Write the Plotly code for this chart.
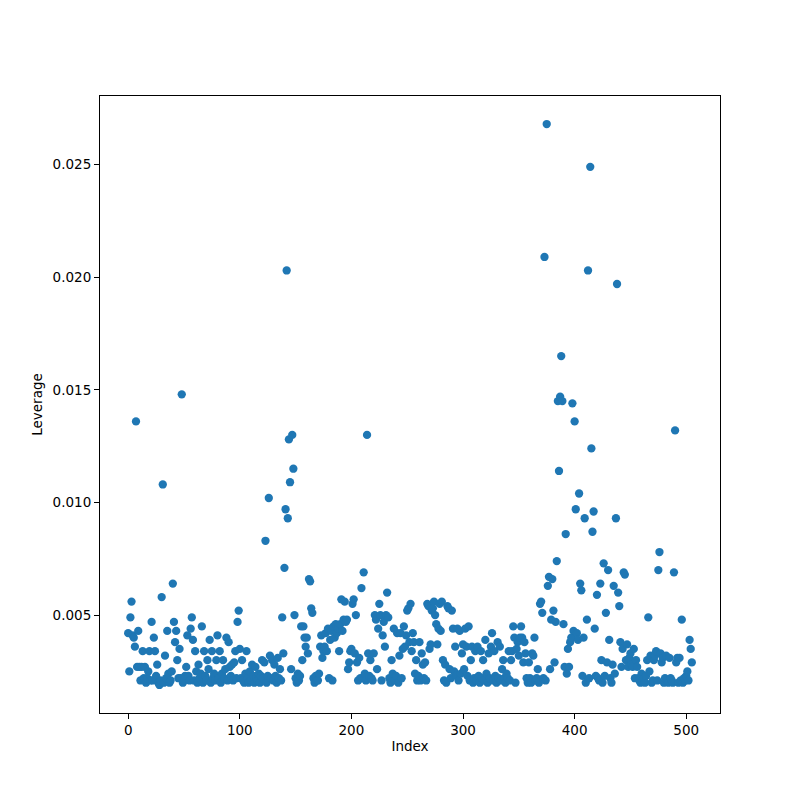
import numpy as np
import plotly.graph_objects as go

# leverage values per index (0..505)
leverage = [
    0.0042, 0.0025, 0.0049, 0.0056, 0.0041, 0.0040, 0.0036, 0.0136, 0.0027, 0.0043,
    0.0027, 0.0021, 0.0027, 0.0034, 0.0022, 0.0027, 0.0020, 0.0022, 0.0025, 0.0034,
    0.0021, 0.0047, 0.0021, 0.0040, 0.0034, 0.0023, 0.0028, 0.0020, 0.0019, 0.0021,
    0.0058, 0.0108, 0.0020, 0.0032, 0.0022, 0.0043, 0.0024, 0.0020, 0.0021, 0.0025,
    0.0064, 0.0047, 0.0038, 0.0043, 0.0030, 0.0022, 0.0035, 0.0022, 0.0148, 0.0020,
    0.0021, 0.0023, 0.0027, 0.0041, 0.0023, 0.0021, 0.0044, 0.0049, 0.0039, 0.0021,
    0.0034, 0.0025, 0.0020, 0.0028, 0.0022, 0.0024, 0.0045, 0.0020, 0.0034, 0.0023,
    0.0021, 0.0030, 0.0026, 0.0039, 0.0020, 0.0034, 0.0022, 0.0024, 0.0021, 0.0030,
    0.0041, 0.0022, 0.0034, 0.0020, 0.0024, 0.0030, 0.0022, 0.0026, 0.0040, 0.0021,
    0.0038, 0.0027, 0.0023, 0.0028, 0.0021, 0.0029, 0.0034, 0.0022, 0.0047, 0.0052,
    0.0035, 0.0022, 0.0030, 0.0021, 0.0020, 0.0024, 0.0034, 0.0022, 0.0020, 0.0025,
    0.0021, 0.0028, 0.0023, 0.0020, 0.0027, 0.0022, 0.0021, 0.0024, 0.0020, 0.0023,
    0.0030, 0.0022, 0.0029, 0.0083, 0.0020, 0.0023, 0.0102, 0.0032, 0.0022, 0.0030,
    0.0021, 0.0028, 0.0023, 0.0020, 0.0031, 0.0022, 0.0026, 0.0021, 0.0049, 0.0033,
    0.0071, 0.0097, 0.0203, 0.0093, 0.0128, 0.0109, 0.0026, 0.0130, 0.0115, 0.0050,
    0.0022, 0.0020, 0.0024, 0.0021, 0.0023, 0.0045, 0.0030, 0.0045, 0.0040, 0.0036,
    0.0040, 0.0033, 0.0066, 0.0065, 0.0053, 0.0051, 0.0022, 0.0020, 0.0023, 0.0021,
    0.0021, 0.0024, 0.0036, 0.0041, 0.0031, 0.0034, 0.0036, 0.0042, 0.0034, 0.0044,
    0.0022, 0.0039, 0.0043, 0.0021, 0.0045, 0.0040, 0.0046, 0.0042, 0.0044, 0.0034,
    0.0046, 0.0057, 0.0043, 0.0048, 0.0056, 0.0047, 0.0048, 0.0026, 0.0029, 0.0034,
    0.0035, 0.0055, 0.0057, 0.0033, 0.0050, 0.0029, 0.0021, 0.0031, 0.0022, 0.0062,
    0.0022, 0.0069, 0.0024, 0.0021, 0.0130, 0.0033, 0.0023, 0.0030, 0.0022, 0.0021,
    0.0033, 0.0050, 0.0048, 0.0026, 0.0044, 0.0055, 0.0050, 0.0021, 0.0041, 0.0047,
    0.0036, 0.0050, 0.0060, 0.0049, 0.0022, 0.0020, 0.0030, 0.0024, 0.0044, 0.0021,
    0.0023, 0.0042, 0.0020, 0.0032, 0.0042, 0.0022, 0.0035, 0.0045, 0.0036, 0.0041,
    0.0052, 0.0053, 0.0038, 0.0055, 0.0034, 0.0042, 0.0038, 0.0024, 0.0030, 0.0021,
    0.0023, 0.0038, 0.0021, 0.0033, 0.0028, 0.0022, 0.0029, 0.0021, 0.0055, 0.0054,
    0.0035, 0.0037, 0.0052, 0.0053, 0.0056, 0.0050, 0.0046, 0.0037, 0.0044, 0.0055,
    0.0043, 0.0056, 0.0030, 0.0021, 0.0028, 0.0020, 0.0054, 0.0053, 0.0026, 0.0022,
    0.0052, 0.0044, 0.0025, 0.0036, 0.0023, 0.0044, 0.0021, 0.0043, 0.0024, 0.0033,
    0.0037, 0.0026, 0.0044, 0.0036, 0.0023, 0.0045, 0.0021, 0.0030, 0.0036, 0.0020,
    0.0022, 0.0034, 0.0021, 0.0036, 0.0023, 0.0020, 0.0034, 0.0022, 0.0030, 0.0021,
    0.0039, 0.0024, 0.0020, 0.0033, 0.0022, 0.0036, 0.0042, 0.0021, 0.0034, 0.0023,
    0.0020, 0.0038, 0.0022, 0.0036, 0.0021, 0.0026, 0.0030, 0.0022, 0.0020, 0.0024,
    0.0022, 0.0034, 0.0021, 0.0030, 0.0034, 0.0045, 0.0040, 0.0020, 0.0035, 0.0038,
    0.0032, 0.0040, 0.0045, 0.0040, 0.0029, 0.0038, 0.0033, 0.0022, 0.0020, 0.0029,
    0.0022, 0.0020, 0.0033, 0.0032, 0.0040, 0.0021, 0.0022, 0.0026, 0.0020, 0.0055,
    0.0056, 0.0051, 0.0022, 0.0209, 0.0021, 0.0268, 0.0063, 0.0067, 0.0026, 0.0048,
    0.0066, 0.0052, 0.0029, 0.0047, 0.0074, 0.0145, 0.0114, 0.0147, 0.0165, 0.0145,
    0.0046, 0.0027, 0.0086, 0.0024, 0.0035, 0.0027, 0.0038, 0.0040, 0.0144, 0.0043,
    0.0136, 0.0097, 0.0042, 0.0039, 0.0104, 0.0064, 0.0061, 0.0023, 0.0040, 0.0093,
    0.0020, 0.0048, 0.0203, 0.0022, 0.0249, 0.0124, 0.0087, 0.0096, 0.0044, 0.0023,
    0.0059, 0.0022, 0.0021, 0.0064, 0.0030, 0.0020, 0.0073, 0.0023, 0.0051, 0.0029,
    0.0070, 0.0039, 0.0022, 0.0020, 0.0028, 0.0063, 0.0024, 0.0093, 0.0197, 0.0060,
    0.0054, 0.0038, 0.0027, 0.0035, 0.0069, 0.0068, 0.0030, 0.0037, 0.0027, 0.0031,
    0.0033, 0.0028, 0.0027, 0.0035, 0.0022, 0.0030, 0.0027, 0.0022, 0.0021, 0.0020,
    0.0024, 0.0021, 0.0022, 0.0020, 0.0023, 0.0030, 0.0049, 0.0025, 0.0032, 0.0020,
    0.0021, 0.0030, 0.0032, 0.0034, 0.0021, 0.0070, 0.0078, 0.0033, 0.0029, 0.0031,
    0.0020, 0.0022, 0.0032, 0.0021, 0.0020, 0.0031, 0.0022, 0.0021, 0.0020, 0.0069,
    0.0132, 0.0029, 0.0031, 0.0020, 0.0031, 0.0021, 0.0048, 0.0020, 0.0022, 0.0021,
    0.0023, 0.0025, 0.0021, 0.0039, 0.0035, 0.0029,
]
index = list(range(len(leverage)))

x_ticks = [0, 100, 200, 300, 400, 500]
y_ticks = [0.005, 0.010, 0.015, 0.020, 0.025]
y_labels = ["0.005", "0.010", "0.015", "0.020", "0.025"]

# matplotlib-like 5% padding
def padded(lo, hi):
    pad = (hi - lo) * 0.05
    return [lo - pad, hi + pad]

fig = go.Figure(
    go.Scatter(
        x=index,
        y=leverage,
        mode="markers",
        marker=dict(color="#1f77b4", size=8.3, line=dict(width=0)),
    )
)

axis_style = dict(
    showgrid=False,
    zeroline=False,
    showline=True,
    linecolor="black",
    linewidth=1.1,
    mirror=True,
    ticks="outside",
    ticklen=5,
    tickwidth=1.1,
    tickcolor="black",
    tickfont=dict(family="DejaVu Sans", size=13.5, color="black"),
    title_font=dict(family="DejaVu Sans", size=13.5, color="black"),
)

fig.update_xaxes(
    range=padded(min(index), max(index)),
    tickvals=x_ticks,
    title_text="Index",
    title_standoff=4,
    **axis_style,
)
fig.update_yaxes(
    range=padded(min(leverage), max(leverage)),
    tickvals=y_ticks,
    ticktext=y_labels,
    title_text="Leverage",
    title_standoff=6,
    **axis_style,
)

# page body adds 8px, so margins are shifted to keep the axes box in place
fig.update_layout(
    width=800,
    height=800,
    margin=dict(l=92, r=88, t=88, b=95),
    plot_bgcolor="white",
    paper_bgcolor="white",
    showlegend=False,
)

fig.write_html("out.html")
